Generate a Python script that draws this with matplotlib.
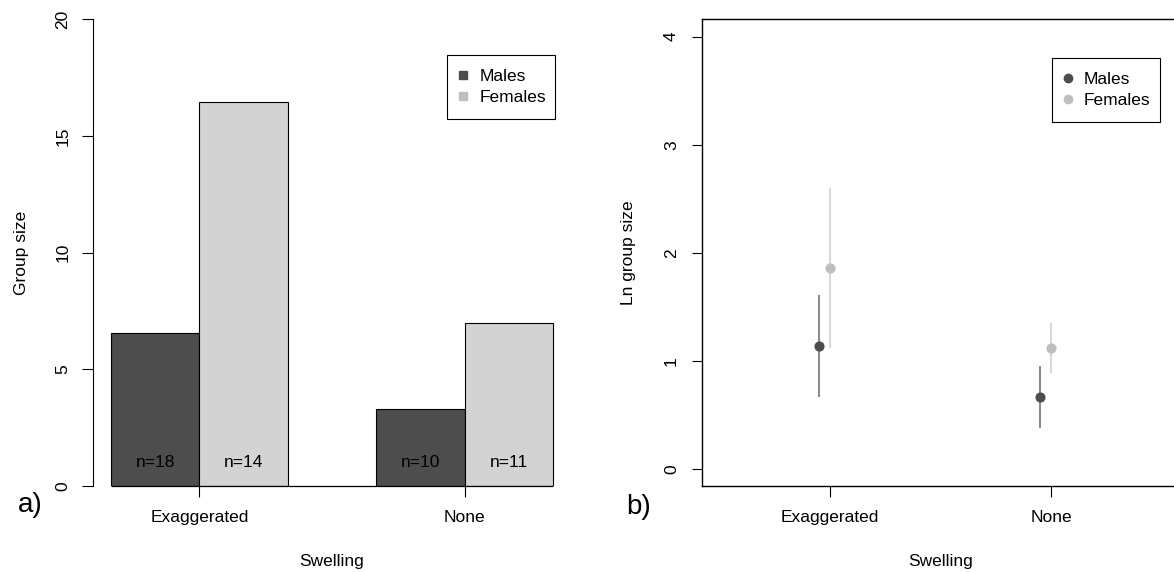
import numpy as np
import matplotlib
matplotlib.use("Agg")
import matplotlib.pyplot as plt
from matplotlib.lines import Line2D
from matplotlib.patches import Rectangle

plt.rcParams["font.family"] = ["Liberation Sans", "DejaVu Sans"]
plt.rcParams["font.size"] = 12.5

swelling = ["Exaggerated", "None"]

# mean group size and sample sizes
male_size = [6.54, 3.29]
female_size = [16.44, 6.98]
male_n = [18, 10]
female_n = [14, 11]

# ln group size with confidence limits
male_ln = [1.14, 0.67]
male_lo = [0.67, 0.385]
male_hi = [1.61, 0.955]
female_ln = [1.86, 1.12]
female_lo = [1.12, 0.89]
female_hi = [2.60, 1.35]

male_col = "#4d4d4d"
female_bar = "#d3d3d3"
female_pt = "#bebebe"


def boxed_legend(ax, handles, anchor, textpad, box):
    # legend entries without frame, plus a plain black box around them
    ax.legend(handles, ["Males", "Females"], loc="upper left",
              bbox_to_anchor=anchor, frameon=False, handlelength=0,
              handletextpad=textpad, borderpad=0, labelspacing=0.36,
              borderaxespad=0)
    ax.add_patch(Rectangle(box[:2], box[2], box[3], transform=ax.transAxes,
                           fill=False, edgecolor="black", linewidth=0.8,
                           clip_on=False, zorder=5))


fig = plt.figure(figsize=(11.74, 5.72), dpi=100)

# ---- a) bar plot
ax1 = fig.add_axes([0.0795, 0.1498, 0.4066, 0.817])
grp = np.array([2.0, 5.0])
ax1.bar(grp - 0.5, male_size, width=1, color=male_col, edgecolor="black", linewidth=0.8)
ax1.bar(grp + 0.5, female_size, width=1, color=female_bar, edgecolor="black", linewidth=0.8)
for i in range(len(grp)):
    ax1.text(grp[i] - 0.5, 1, f"n={male_n[i]}", ha="center", va="center")
    ax1.text(grp[i] + 0.5, 1, f"n={female_n[i]}", ha="center", va="center")
ax1.hlines(0, grp[0] - 1, grp[-1] + 1, color="black", linewidth=0.9, clip_on=False, zorder=3)
ax1.set_xlim(0.8, 6.2)
ax1.set_ylim(0, 20)
for s in ["top", "right", "bottom"]:
    ax1.spines[s].set_visible(False)
ax1.spines["left"].set_linewidth(0.8)
ax1.set_yticks([0, 5, 10, 15, 20])
ax1.set_xticks(grp)
ax1.set_xticklabels(swelling)
ax1.tick_params(axis="y", length=7.7, width=0.8, pad=9, labelrotation=90)
ax1.tick_params(axis="x", length=7.7, width=0.8, pad=9)
for lbl in ax1.get_yticklabels():
    lbl.set_va("center")
ax1.set_xlabel("Swelling", va="center")
ax1.xaxis.set_label_coords(0.5, -0.1616)
ax1.set_ylabel("Group size", va="center")
ax1.yaxis.set_label_coords(-0.1514, 0.5)
h1 = [Line2D([], [], ls="none", marker="s", ms=6, color=male_col),
      Line2D([], [], ls="none", marker="s", ms=6, color=female_pt)]
boxed_legend(ax1, h1, (0.7734, 0.8942), 0.96, (0.740, 0.7869, 0.2277, 0.1367))

# ---- b) ln group size with intervals
ax2 = fig.add_axes([0.5977, 0.1495, 0.4072, 0.8168])
xs = np.arange(1, len(swelling) + 1)
ax2.vlines(xs - 0.05, male_lo, male_hi, color="#8c8c8c", linewidth=1.5)
ax2.vlines(xs, female_lo, female_hi, color="#d9d9d9", linewidth=1.5)
ax2.plot(xs - 0.05, male_ln, "o", color=male_col, ms=6.3)
ax2.plot(xs, female_ln, "o", color=female_pt, ms=6.3)
ax2.set_xlim(0.42, 2.58)
ax2.set_ylim(-0.16, 4.16)
ax2.set_xticks(xs)
ax2.set_xticklabels(swelling)
ax2.set_yticks([0, 1, 2, 3, 4])
for s in ax2.spines.values():
    s.set_linewidth(1.0)
ax2.tick_params(axis="y", length=7.3, width=0.8, pad=9, labelrotation=90)
ax2.tick_params(axis="x", length=7.7, width=0.8, pad=9)
for lbl in ax2.get_yticklabels():
    lbl.set_va("center")
ax2.set_xlabel("Swelling", va="center")
ax2.xaxis.set_label_coords(0.5006, -0.161)
ax2.set_ylabel("Ln group size", va="center")
ax2.yaxis.set_label_coords(-0.153, 0.5)
h2 = [Line2D([], [], ls="none", marker="o", ms=6, color=male_col),
      Line2D([], [], ls="none", marker="o", ms=6, color=female_pt)]
boxed_legend(ax2, h2, (0.7661, 0.8877), 0.91, (0.732, 0.7798, 0.2268, 0.1365))

fig.text(0.0261, 0.1178, "a)", fontsize=20, ha="center", va="center")
fig.text(0.5443, 0.1142, "b)", fontsize=20, ha="center", va="center")

fig.savefig("out.png", dpi=100)
